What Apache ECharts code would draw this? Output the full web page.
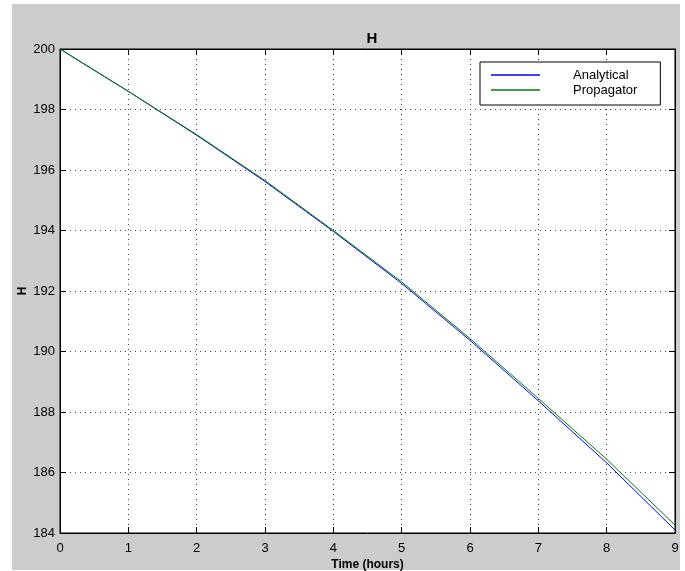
<!DOCTYPE html>
<html>
<head>
<meta charset="utf-8">
<script src="https://cdn.jsdelivr.net/npm/echarts@6/dist/echarts.min.js"></script>
<style>
	body { margin: 0; background: #fff; }
	#main { width: 685px; height: 571px; }
</style>
</head>
<body>
<div id="main"></div>
<script>
// data
const hours = [0, 1, 2, 3, 4, 5, 6, 7, 8, 9];
const analytical = [200, 198.6, 197.15, 195.62, 193.97, 192.25, 190.37, 188.37, 186.32, 184.10];
const propagator = [200, 198.6, 197.17, 195.65, 194.0, 192.3, 190.43, 188.45, 186.44, 184.26];

const font = 'Liberation Sans, Arial, Helvetica, sans-serif';
const pair = (xs, ys) => xs.map((x, i) => [x, ys[i]]);

const chart = echarts.init(document.getElementById('main'));

//坐标轴公共样式
const dotLine = { show: true, lineStyle: { color: '#444', type: [1, 4], width: 1 } };
const axisBox = { show: true, onZero: false, lineStyle: { color: '#000', width: 1 } };
const inTick = { show: true, inside: true, length: 6, lineStyle: { color: '#000' } };

const option = {
	animation: false,
	graphic: [
		{ type: 'rect', z: -10, shape: { x: 12, y: 4, width: 668, height: 566 }, style: { fill: '#cccccc' } }
	],
	title: {
		text: 'H',
		left: 367, top: 26, textAlign: 'center',
		textStyle: { fontFamily: font, fontSize: 15, fontWeight: 'bold', color: '#000' }
	},
	legend: {
		orient: 'vertical',
		left: 480, top: 62,
		width: 179,
		padding: [6, 23, 8, 11],
		icon: 'path://M0,0L49,0L49,1.3L0,1.3Z',
		itemWidth: 49, itemHeight: 2, itemGap: 1,
		borderColor: '#000', borderWidth: 1,
		backgroundColor: '#fff',
		textStyle: { fontFamily: font, fontSize: 13, lineHeight: 14, color: '#000', padding: [0, 0, 0, 28] },
		data: ['Analytical', 'Propagator']
	},
	grid: {
		left: 60, top: 49, width: 615, height: 484,
		outerBoundsMode: 'none',
		show: true, backgroundColor: '#fff', borderColor: '#000', borderWidth: 1
	},
	xAxis: [
		{
			type: 'value', min: 0, max: 9, interval: 1,
			name: 'Time (hours)', nameLocation: 'middle', nameGap: 26, nameMoveOverlap: false,
			nameTextStyle: { fontFamily: font, fontSize: 12, fontWeight: 'bold', color: '#000' },
			axisLine: axisBox, axisTick: inTick, splitLine: dotLine,
			axisLabel: { fontFamily: font, fontSize: 13, color: '#000', margin: 9 }
		},
		{
			type: 'value', min: 0, max: 9, interval: 1, position: 'top',
			axisLine: axisBox, axisTick: inTick, splitLine: { show: false }, axisLabel: { show: false }
		}
	],
	yAxis: [
		{
			type: 'value', min: 184, max: 200, interval: 2,
			name: 'H', nameLocation: 'middle', nameGap: 31, nameRotate: 90, nameMoveOverlap: false,
			nameTextStyle: { fontFamily: font, fontSize: 12, fontWeight: 'bold', color: '#000' },
			axisLine: axisBox, axisTick: inTick, splitLine: dotLine,
			axisLabel: { fontFamily: font, fontSize: 13, color: '#000', margin: 5 }
		},
		{
			type: 'value', min: 184, max: 200, interval: 2, position: 'right',
			axisLine: axisBox, axisTick: inTick, splitLine: { show: false }, axisLabel: { show: false }
		}
	],
	series: [
		{
			name: 'Analytical', type: 'line', symbol: 'none',
			lineStyle: { color: '#0000ff', width: 1 }, itemStyle: { color: '#0000ff' },
			data: pair(hours, analytical)
		},
		{
			name: 'Propagator', type: 'line', symbol: 'none',
			lineStyle: { color: '#008000', width: 1 }, itemStyle: { color: '#008000' },
			data: pair(hours, propagator)
		}
	]
};
chart.setOption(option);
</script>
</body>
</html>
